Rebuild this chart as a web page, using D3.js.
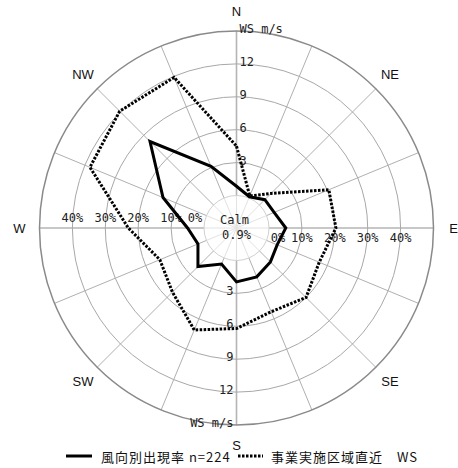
<!DOCTYPE html>
<html>
<head>
<meta charset="utf-8">
<script src="https://cdn.jsdelivr.net/npm/d3@7"></script>
<style>
  html, body { margin: 0; padding: 0; background: #fff; }
  svg { display: block; }
  .mono { font-family: "DejaVu Sans Mono", "Liberation Mono", monospace; }
  .dir { font-family: "Liberation Sans", Arial, sans-serif; }
  .jp { font-family: "Noto Sans CJK JP", sans-serif; }
</style>
</head>
<body>
<script>
// 16 compass directions, clockwise from north
const directions = ["N","NNE","NE","ENE","E","ESE","SE","SSE","S","SSW","SW","WSW","W","WNW","NW","NNW"];
// frequency of each wind direction (%)
const frequency = [2.8, 0.4, 2.3, 2.5, 5.1, 3.5, 4.7, 6.2, 6.5, 2.0, 6.7, 2.8, 5.0, 14.3, 27.3, 10.4];
// mean wind speed by direction (m/s)
const windSpeed = [4.5, 0.2, 1.5, 6.15, 6.1, 5.2, 6.0, 5.3, 6.2, 7.1, 5.3, 4.6, 6.9, 11.5, 12.1, 11.9];
const calm = 0.9;
const percentTicks = [0, 10, 20, 30, 40];
const speedTicks = [3, 6, 9, 12];
const compassLabels = ["N","NE","E","SE","S","SW","W","NW"];
const legendLabels = ["風向別出現率 n=224", "事業実施区域直近　WS"];

const W = 458, H = 468;
const cx = 236.5, cy = 228;
const r0 = 32.5, R = 197;

const svg = d3.select("body").append("svg").attr("width", W).attr("height", H);
const g = svg.append("g").attr("transform", `translate(${cx},${cy})`);

const rPct = d3.scaleLinear().domain([0, 50]).range([r0, R]);
const rWs = d3.scaleLinear().domain([0, 15]).range([r0, R]);
const ang = d3.scaleLinear().domain([0, directions.length]).range([0, 2 * Math.PI]);

// spokes: faint inside the calm circle, grey outside
directions.forEach((d, i) => {
  const a = ang(i), sx = Math.sin(a), sy = -Math.cos(a);
  g.append("line").attr("x1", 0).attr("y1", 0).attr("x2", sx * r0).attr("y2", sy * r0)
    .attr("stroke", "#e2e2e2").attr("stroke-width", 1);
  const major = i % 4 === 0;
  g.append("line").attr("x1", sx * r0).attr("y1", sy * r0).attr("x2", sx * R).attr("y2", sy * R)
    .attr("stroke", major ? "#b4b4b4" : "#b0b0b0").attr("stroke-width", major ? 1.6 : 1);
});

// rings
const ringVals = [10, 20, 30, 40];
g.append("circle").attr("r", rPct(0)).attr("fill", "none").attr("stroke", "#d0d0d0").attr("stroke-width", 1);
ringVals.forEach(v => {
  g.append("circle").attr("r", rPct(v)).attr("fill", "none").attr("stroke", "#a8a8a8").attr("stroke-width", 1);
});
g.append("circle").attr("r", rPct(50)).attr("fill", "none").attr("stroke", "#8a8a8a").attr("stroke-width", 1.5);

// percentage labels along the E-W axis
percentTicks.forEach(v => {
  const r = Math.max(rPct(v), r0 + 9);
  g.append("text").attr("class", "mono").attr("x", -r).attr("y", -6)
    .attr("text-anchor", "middle").attr("font-size", 12).attr("fill", "#222").text(v + "%");
  g.append("text").attr("class", "mono").attr("x", r).attr("y", 14)
    .attr("text-anchor", "middle").attr("font-size", 12).attr("fill", "#222").text(v + "%");
});

// wind-speed labels along the N-S axis
speedTicks.forEach(v => {
  g.append("text").attr("class", "mono").attr("x", 3).attr("y", -rWs(v) + 2)
    .attr("font-size", 12).attr("fill", "#222").text(v);
  g.append("text").attr("class", "mono").attr("x", -3).attr("y", rWs(v) + 2)
    .attr("text-anchor", "end").attr("font-size", 12).attr("fill", "#222").text(v);
});
g.append("text").attr("class", "mono").attr("x", 3).attr("y", -rWs(15) + 2)
  .attr("font-size", 12).attr("fill", "#222").text("WS m/s");
g.append("text").attr("class", "mono").attr("x", -3).attr("y", rWs(15) + 2)
  .attr("text-anchor", "end").attr("font-size", 12).attr("fill", "#222").text("WS m/s");

// calm
g.append("text").attr("class", "mono").attr("x", -2).attr("y", -4)
  .attr("text-anchor", "middle").attr("font-size", 12).attr("fill", "#222").text("Calm");
g.append("text").attr("class", "mono").attr("x", 0).attr("y", 11)
  .attr("text-anchor", "middle").attr("font-size", 12).attr("fill", "#222").text(calm + "%");

// compass labels
compassLabels.forEach((lab, k) => {
  const a = ang(k * 2), rl = 217;
  g.append("text").attr("class", "dir").attr("x", Math.sin(a) * rl).attr("y", -Math.cos(a) * rl)
    .attr("text-anchor", "middle").attr("dominant-baseline", "central")
    .attr("font-size", 13).attr("fill", "#111").text(lab);
});

// series
const freqLine = d3.lineRadial().angle((d, i) => ang(i)).radius(d => rPct(d)).curve(d3.curveLinearClosed);
const wsLine = d3.lineRadial().angle((d, i) => ang(i)).radius(d => rWs(d)).curve(d3.curveLinearClosed);

g.append("path").attr("d", wsLine(windSpeed)).attr("fill", "none").attr("stroke", "#000")
  .attr("stroke-width", 3).attr("stroke-dasharray", "2.5 1.5").attr("stroke-linejoin", "miter");
g.append("path").attr("d", freqLine(frequency)).attr("fill", "none").attr("stroke", "#000")
  .attr("stroke-width", 3).attr("stroke-linejoin", "miter");

// legend
const ly = 456;
const leg = svg.append("g");
leg.append("line").attr("x1", 66).attr("x2", 92).attr("y1", ly).attr("y2", ly)
  .attr("stroke", "#000").attr("stroke-width", 3);
leg.append("text").attr("class", "jp").attr("x", 101).attr("y", ly).attr("dominant-baseline", "central")
  .attr("font-size", 13).attr("letter-spacing", 1).attr("fill", "#111").text(legendLabels[0]);
leg.append("line").attr("x1", 238).attr("x2", 263).attr("y1", ly).attr("y2", ly)
  .attr("stroke", "#000").attr("stroke-width", 3).attr("stroke-dasharray", "2.5 1.5");
leg.append("text").attr("class", "jp").attr("x", 271).attr("y", ly).attr("dominant-baseline", "central")
  .attr("font-size", 13).attr("letter-spacing", 1).attr("fill", "#111").text(legendLabels[1]);
</script>
</body>
</html>
